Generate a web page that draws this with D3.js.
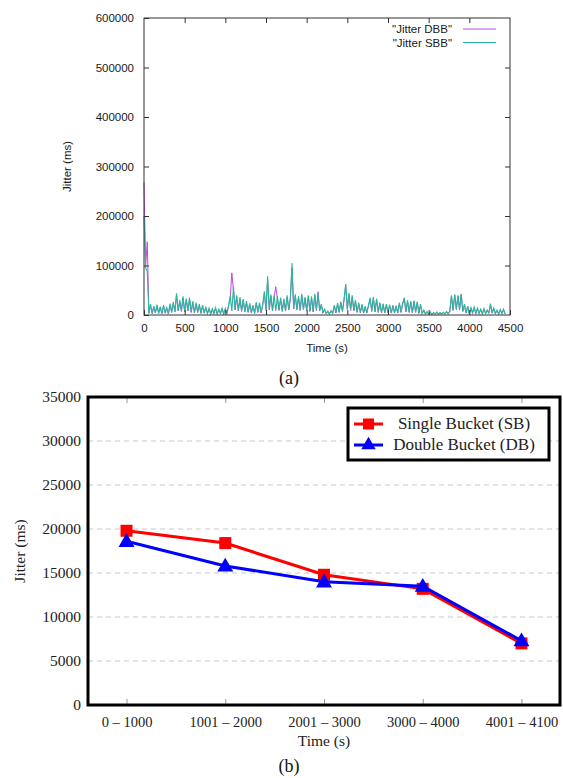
<!DOCTYPE html>
<html>
<head>
<meta charset="utf-8">
<script src="https://cdn.jsdelivr.net/npm/d3@7/dist/d3.min.js"></script>
<style>
  html, body { margin: 0; padding: 0; background: #fff; }
  svg { display: block; }
</style>
</head>
<body>
<svg id="fig" width="563" height="778"></svg>
<script>
// ---------- (a) jitter trace, sampled every 20 s, values in thousands of ms ----------
const sampleInterval = 20;
const jitterDbbK = [
  268,100,148,3,19,3,16,4,18,3,
  15,3,18,4,13,2,20,5,23,6,
  40,8,27,7,34,6,30,8,31,5,
  25,4,22,5,19,3,18,4,14,3,
  12,2,11,3,13,2,11,3,12,2,
  11,3,18,34,85,50,10,36,8,32,
  7,29,6,25,5,21,4,18,3,23,
  5,22,4,20,44,9,70,10,38,8,
  36,57,34,9,32,7,30,8,36,10,
  33,95,12,38,10,35,9,39,11,33,
  8,36,7,34,6,39,9,47,8,20,
  4,10,3,7,2,8,3,18,4,22,
  5,25,7,30,58,11,41,9,36,8,
  27,5,22,4,20,4,16,4,18,32,
  7,33,6,30,5,23,4,21,4,20,
  4,19,4,18,4,17,4,23,5,22,
  32,6,27,5,26,4,27,5,25,3,
  20,3,9,2,6,2,5,1,4,2,
  5,1,4,2,5,2,6,2,7,38,
  9,40,11,38,10,41,7,20,4,16,
  3,14,4,15,3,13,3,11,2,12,
  3,9,4,21,4,13,3,9,2,10,
  3,11,2
];
const jitterSbbK = [
  200,95,88,4,22,3,18,5,21,4,
  17,3,20,5,15,2,23,6,26,7,
  44,9,30,8,38,7,33,9,35,6,
  28,5,25,6,22,4,20,5,16,3,
  14,2,13,3,15,2,12,3,14,2,
  13,4,20,38,8,57,12,40,9,36,
  8,32,7,28,6,24,5,20,4,26,
  6,25,5,22,48,10,78,12,42,9,
  40,8,38,10,35,8,33,9,40,11,
  36,105,14,42,11,38,10,43,12,36,
  9,40,8,38,7,43,10,42,9,22,
  5,12,3,8,2,9,4,20,5,24,
  6,27,8,33,63,12,45,10,40,9,
  30,6,25,5,22,4,18,5,20,35,
  8,36,7,33,6,25,5,23,4,22,
  5,21,4,20,5,19,4,25,6,24,
  35,7,30,6,28,5,29,6,27,4,
  22,3,10,2,7,2,6,1,5,2,
  6,1,5,2,6,2,7,2,8,40,
  10,42,12,40,11,43,8,22,4,18,
  3,15,4,16,3,14,3,12,2,13,
  3,10,4,23,5,14,3,10,2,11,
  3,12,2
];
const traceXTicks = [0,500,1000,1500,2000,2500,3000,3500,4000,4500];
const traceYTicks = [0,100000,200000,300000,400000,500000,600000];
const traceLegend = ['"Jitter DBB"', '"Jitter SBB"'];

// ---------- (b) average jitter per time window ----------
const windows = ["0 \u2013 1000", "1001 \u2013 2000", "2001 \u2013 3000", "3000 \u2013 4000", "4001 \u2013 4100"];
const singleBucket = [19800, 18400, 14800, 13200, 7000];
const doubleBucket = [18600, 15800, 14000, 13500, 7300];
const summaryYTicks = [0,5000,10000,15000,20000,25000,30000,35000];
const summaryLegend = ["Single Bucket (SB)", "Double Bucket (DB)"];

const svg = d3.select("#fig");

// ===== panel (a) =====
(function drawTrace() {
  const L = 144, R = 510, T = 18, B = 315;
  const colDbb = "#b84ee0", colSbb = "#2bb799";
  const sans = "'Liberation Sans', Arial, sans-serif";
  const x = d3.scaleLinear().domain([0, 4500]).range([L, R]);
  const y = d3.scaleLinear().domain([0, 600000]).range([B, T]);
  const g = svg.append("g");

  const line = d3.line()
    .x((d, i) => x(i * sampleInterval))
    .y(d => y(d * 1000));

  g.append("path").datum(jitterDbbK).attr("d", line)
    .attr("fill", "none").attr("stroke", colDbb).attr("stroke-width", 1);
  g.append("path").datum(jitterSbbK).attr("d", line)
    .attr("fill", "none").attr("stroke", colSbb).attr("stroke-width", 1.1);

  // frame
  g.append("rect").attr("x", L).attr("y", T).attr("width", R - L).attr("height", B - T)
    .attr("fill", "none").attr("stroke", "#333").attr("stroke-width", 1);

  // mirrored inward ticks
  const tk = 5;
  const fmt = d3.format("d");
  g.append("g").attr("transform", `translate(0,${B})`)
    .call(d3.axisBottom(x).tickValues(traceXTicks).tickSizeInner(-tk).tickSizeOuter(0).tickPadding(9).tickFormat(fmt))
    .call(a => a.select(".domain").remove())
    .call(a => a.selectAll("line").attr("stroke", "#333"))
    .call(a => a.selectAll("text").attr("font-family", sans).attr("font-size", 11.5).attr("fill", "#1a1a1a"));
  g.append("g").attr("transform", `translate(0,${T})`)
    .call(d3.axisTop(x).tickValues(traceXTicks.slice(1, -1)).tickSizeInner(-tk).tickSizeOuter(0).tickFormat(""))
    .call(a => a.select(".domain").remove())
    .call(a => a.selectAll("line").attr("stroke", "#333"));
  g.append("g").attr("transform", `translate(${L},0)`)
    .call(d3.axisLeft(y).tickValues(traceYTicks).tickSizeInner(-tk).tickSizeOuter(0).tickPadding(10).tickFormat(fmt))
    .call(a => a.select(".domain").remove())
    .call(a => a.selectAll("line").attr("stroke", "#333"))
    .call(a => a.selectAll("text").attr("font-family", sans).attr("font-size", 11.5).attr("fill", "#1a1a1a"));
  g.append("g").attr("transform", `translate(${R},0)`)
    .call(d3.axisRight(y).tickValues(traceYTicks.slice(1, -1)).tickSizeInner(-tk).tickSizeOuter(0).tickFormat(""))
    .call(a => a.select(".domain").remove())
    .call(a => a.selectAll("line").attr("stroke", "#333"));

  g.append("text").attr("x", (L + R) / 2).attr("y", 352).attr("text-anchor", "middle")
    .attr("font-family", sans).attr("font-size", 11.5).attr("fill", "#1a1a1a").text("Time (s)");
  g.append("text").attr("transform", `translate(71,${(T + B) / 2}) rotate(-90)`).attr("text-anchor", "middle")
    .attr("font-family", sans).attr("font-size", 11.5).attr("fill", "#1a1a1a").text("Jitter (ms)");

  // key
  const keyCols = [colDbb, colSbb];
  traceLegend.forEach((lab, i) => {
    const yy = 29 + i * 13.5;
    g.append("text").attr("x", 452).attr("y", yy + 4).attr("text-anchor", "end")
      .attr("font-family", sans).attr("font-size", 11.5).attr("fill", "#1a1a1a").text(lab);
    g.append("line").attr("x1", 463).attr("x2", 496).attr("y1", yy).attr("y2", yy)
      .attr("stroke", keyCols[i]).attr("stroke-width", 1);
  });

  svg.append("text").attr("x", 289).attr("y", 384).attr("text-anchor", "middle")
    .attr("font-family", "'Liberation Serif', 'Times New Roman', serif").attr("font-size", 18)
    .attr("fill", "#111").text("(a)");
})();

// ===== panel (b) =====
(function drawSummary() {
  const L = 88, R = 560, T = 397, B = 705;
  const serif = "'Liberation Serif', 'Times New Roman', serif";
  const x = d3.scalePoint().domain(windows).range([L, R]).padding(0.39);
  const y = d3.scaleLinear().domain([0, 35000]).range([B, T]);
  const g = svg.append("g");

  // dashed grid
  g.append("g").selectAll("line").data(summaryYTicks.filter(v => v > 0 && v < 35000)).join("line")
    .attr("x1", L).attr("x2", R).attr("y1", d => y(d)).attr("y2", d => y(d))
    .attr("stroke", "#c8c8c8").attr("stroke-width", 1).attr("stroke-dasharray", "5,4");

  // ticks at category positions (bottom and top, inward)
  g.append("g").attr("transform", `translate(0,${B})`)
    .call(d3.axisBottom(x).tickSizeInner(-6).tickSizeOuter(0).tickPadding(12))
    .call(a => a.select(".domain").remove())
    .call(a => a.selectAll("line").attr("stroke", "#999"))
    .call(a => a.selectAll("text").attr("font-family", serif).attr("font-size", 14.5).attr("fill", "#222"));
  g.append("g").attr("transform", `translate(0,${T})`)
    .call(d3.axisTop(x).tickSizeInner(-6).tickSizeOuter(0).tickFormat(""))
    .call(a => a.select(".domain").remove())
    .call(a => a.selectAll("line").attr("stroke", "#999"));
  g.append("g").attr("transform", `translate(${L},0)`)
    .call(d3.axisLeft(y).tickValues(summaryYTicks).tickSize(0).tickPadding(7).tickFormat(d3.format("d")))
    .call(a => a.select(".domain").remove())
    .call(a => a.selectAll("text").attr("font-family", serif).attr("font-size", 15.5).attr("fill", "#222"));

  // frame
  g.append("rect").attr("x", L).attr("y", T).attr("width", R - L).attr("height", B - T)
    .attr("fill", "none").attr("stroke", "#000").attr("stroke-width", 3);

  const line = d3.line().x((d, i) => x(windows[i])).y(d => y(d));
  const tri = d3.symbol().type(d3.symbolTriangle).size(110);

  g.append("path").datum(singleBucket).attr("d", line)
    .attr("fill", "none").attr("stroke", "#ff0000").attr("stroke-width", 3);
  g.append("g").selectAll("rect").data(singleBucket).join("rect")
    .attr("x", (d, i) => x(windows[i]) - 6).attr("y", d => y(d) - 6)
    .attr("width", 12).attr("height", 12).attr("fill", "#ff0000");

  g.append("path").datum(doubleBucket).attr("d", line)
    .attr("fill", "none").attr("stroke", "#0000ff").attr("stroke-width", 3);
  g.append("g").selectAll("path").data(doubleBucket).join("path")
    .attr("d", tri).attr("fill", "#0000ff")
    .attr("transform", (d, i) => `translate(${x(windows[i])},${y(d) + 1})`);

  g.append("text").attr("x", x(windows[2])).attr("y", 746).attr("text-anchor", "middle")
    .attr("font-family", serif).attr("font-size", 15.5).attr("fill", "#222").text("Time (s)");
  g.append("text").attr("transform", `translate(25,${(T + B) / 2}) rotate(-90)`).attr("text-anchor", "middle")
    .attr("font-family", serif).attr("font-size", 15.5).attr("fill", "#222").text("Jitter (ms)");

  // legend
  const lg = g.append("g");
  lg.append("rect").attr("x", 348).attr("y", 408).attr("width", 201).attr("height", 52)
    .attr("fill", "#fff").attr("stroke", "#000").attr("stroke-width", 3);
  const cols = ["#ff0000", "#0000ff"];
  summaryLegend.forEach((lab, i) => {
    const yy = 424 + i * 21;
    lg.append("line").attr("x1", 354).attr("x2", 383).attr("y1", yy).attr("y2", yy)
      .attr("stroke", cols[i]).attr("stroke-width", 3);
    if (i === 0) {
      lg.append("rect").attr("x", 363).attr("y", yy - 5.5).attr("width", 11).attr("height", 11).attr("fill", cols[i]);
    } else {
      lg.append("path").attr("d", d3.symbol().type(d3.symbolTriangle).size(90))
        .attr("transform", `translate(368.5,${yy})`).attr("fill", cols[i]);
    }
    lg.append("text").attr("x", 464).attr("y", yy + 5).attr("text-anchor", "middle")
      .attr("font-family", serif).attr("font-size", 17).attr("fill", "#222").text(lab);
  });

  svg.append("text").attr("x", 289).attr("y", 772).attr("text-anchor", "middle")
    .attr("font-family", "'Liberation Serif', 'Times New Roman', serif").attr("font-size", 18)
    .attr("fill", "#111").text("(b)");
})();
</script>
</body>
</html>
